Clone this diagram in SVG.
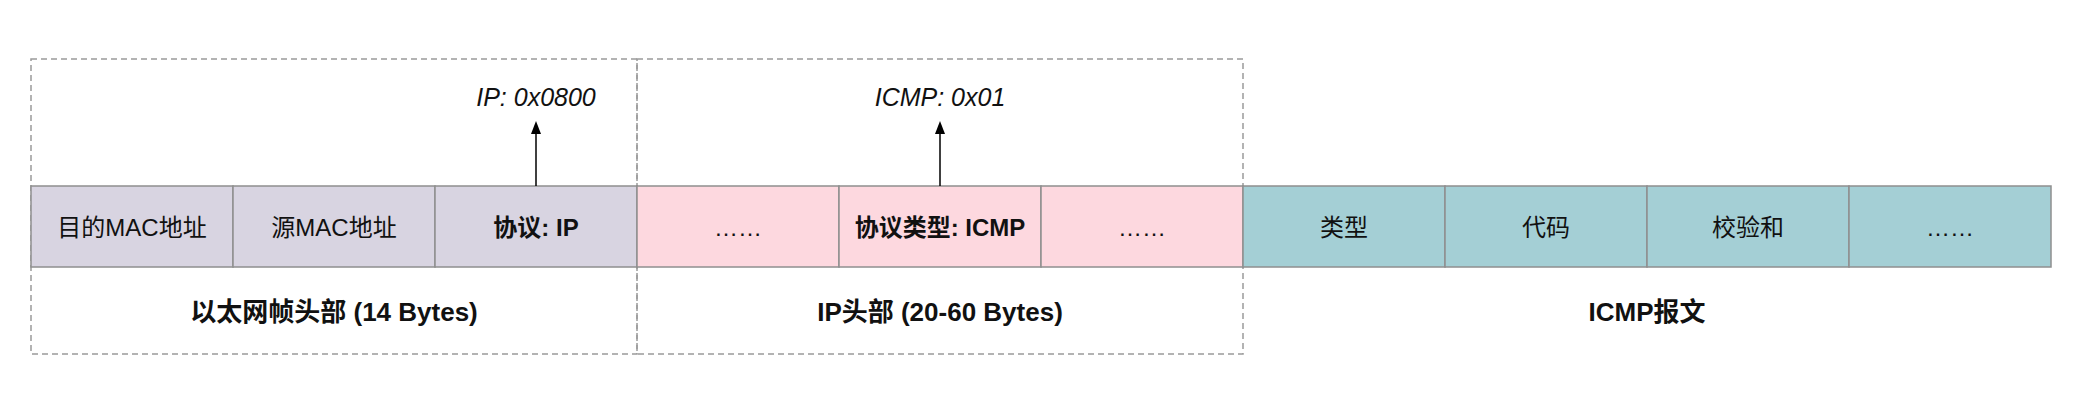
<svg xmlns="http://www.w3.org/2000/svg" width="2088" height="416" viewBox="0 0 2088 416">
<defs>
<style>
.t{font-family:"Liberation Sans","Noto Sans CJK SC",sans-serif;font-size:24px;fill:#111;text-anchor:middle;dominant-baseline:central}
.b{font-weight:bold}
.i{font-style:italic;font-size:25px}
.g{font-size:26px}
.eth{fill:#d8d4e1;stroke:#8f8f8f;stroke-width:1.5}
.ip{fill:#fdd8df;stroke:#8f8f8f;stroke-width:1.5}
.icmp{fill:#a4cfd5;stroke:#8f8f8f;stroke-width:1.5}
.dash{fill:none;stroke:#9a9a9a;stroke-width:1.5;stroke-dasharray:6 4}
.conn{stroke:#000;stroke-width:1.5;fill:none}
</style>
</defs>
<g id="group-eth">
<rect class="dash" x="31" y="59" width="606" height="295"/>
<text class="t b g" x="334" y="312">以太网帧头部 (14 Bytes)</text>
</g>
<g id="group-ip">
<rect class="dash" x="637" y="59" width="606" height="295"/>
<text class="t b g" x="940" y="312">IP头部 (20-60 Bytes)</text>
</g>
<g id="group-icmp">
<text class="t b g" x="1647" y="312">ICMP报文</text>
</g>
<g id="cell-dstmac"><rect class="eth" x="31" y="186" width="202" height="81"/><text class="t" x="132" y="227">目的MAC地址</text></g>
<g id="cell-srcmac"><rect class="eth" x="233" y="186" width="202" height="81"/><text class="t" x="334" y="227">源MAC地址</text></g>
<g id="cell-proto"><rect class="eth" x="435" y="186" width="202" height="81"/><text class="t b" x="536" y="227">协议: IP</text></g>
<g id="cell-ip1"><rect class="ip" x="637" y="186" width="202" height="81"/><text class="t" x="738" y="227">……</text></g>
<g id="cell-ipproto"><rect class="ip" x="839" y="186" width="202" height="81"/><text class="t b" x="940" y="227">协议类型: ICMP</text></g>
<g id="cell-ip2"><rect class="ip" x="1041" y="186" width="202" height="81"/><text class="t" x="1142" y="227">……</text></g>
<g id="cell-type"><rect class="icmp" x="1243" y="186" width="202" height="81"/><text class="t" x="1344" y="227">类型</text></g>
<g id="cell-code"><rect class="icmp" x="1445" y="186" width="202" height="81"/><text class="t" x="1546" y="227">代码</text></g>
<g id="cell-checksum"><rect class="icmp" x="1647" y="186" width="202" height="81"/><text class="t" x="1748" y="227">校验和</text></g>
<g id="cell-icmp-more"><rect class="icmp" x="1849" y="186" width="202" height="81"/><text class="t" x="1950" y="227">……</text></g>
<g id="label-ip"><text class="t i" x="536" y="97">IP: 0x0800</text></g>
<g id="label-icmp"><text class="t i" x="940" y="97">ICMP: 0x01</text></g>
<g id="connectors">
<line class="conn" x1="536" y1="186" x2="536" y2="134"/>
<path d="M536,121 L541,134 L531,134 Z" fill="#000"/>
<line class="conn" x1="940" y1="186" x2="940" y2="134"/>
<path d="M940,121 L945,134 L935,134 Z" fill="#000"/>
</g>
</svg>
